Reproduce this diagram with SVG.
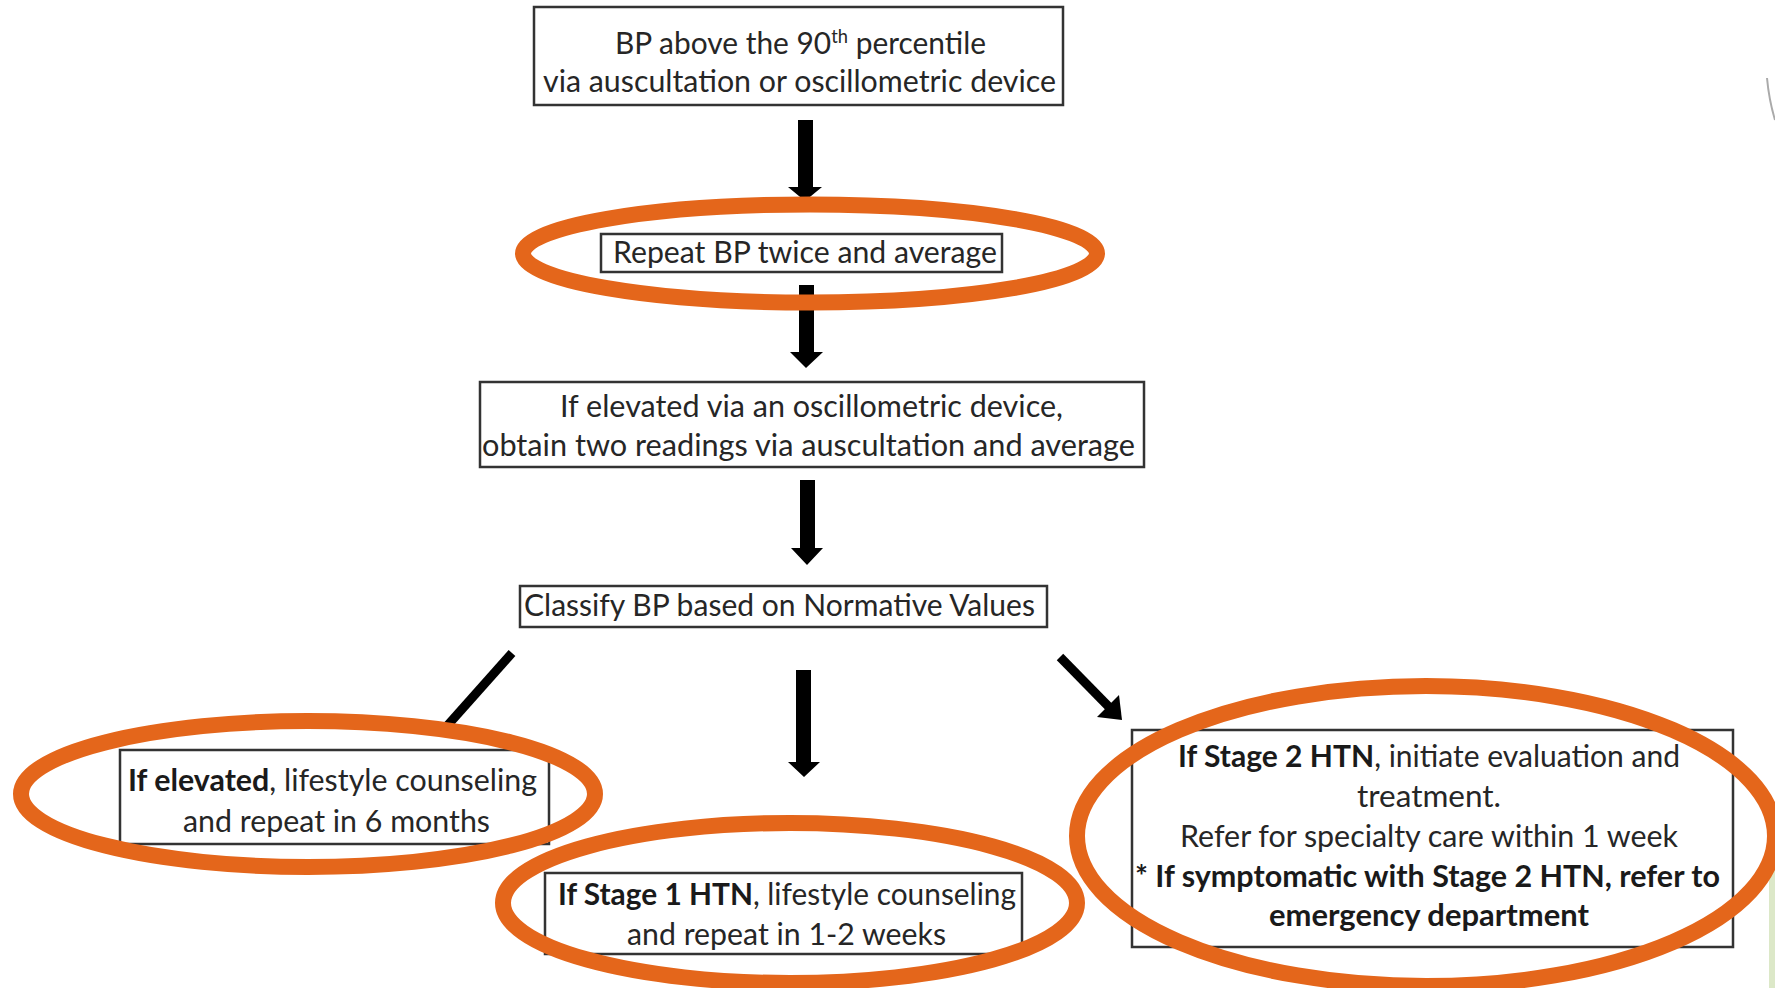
<svg xmlns="http://www.w3.org/2000/svg" width="1775" height="988" viewBox="0 0 1775 988">
<style>
.box{fill:#fff;stroke:#333;stroke-width:2.5}
.t{font-family:Lato,"Open Sans","Liberation Sans",sans-serif;font-size:31px;fill:#262626}
.b{font-weight:700;fill:#1a1a1a}
.hl{fill:none;stroke:#E4661B;stroke-width:16}
.sh{fill:#000}
.ln{stroke:#000;stroke-width:9;fill:none}
</style>
<rect x="0" y="0" width="1775" height="988" fill="#fff"/>
<g id="decor">
<path d="M1767,78 Q1769,100 1775,120" fill="none" stroke="#aaa" stroke-width="2"/>
<rect x="1769" y="835" width="6" height="153" fill="#DCE8C8"/>
</g>
<g id="connectors">
<polygon class="sh" points="798,120 813,120 813,187 822,187 805,201 788,187 798,187"/>
<polygon class="sh" points="799,285 814,285 814,352 823,352 806,368 790,352 799,352"/>
<polygon class="sh" points="800,480 815,480 815,548 823,548 807,565 791,548 800,548"/>
<polygon class="sh" points="796,670 811,670 811,762 820,762 804,777 788,762 796,762"/>
<line class="ln" x1="512" y1="653" x2="447" y2="726"/>
<line class="ln" x1="1060" y1="657" x2="1110" y2="708"/>
<polygon class="sh" points="1122,720 1097,717 1119,695"/>
</g>
<g id="n1">
<rect class="box" x="534" y="7" width="529" height="98"/>
<text class="t" x="615" y="54" textLength="371" lengthAdjust="spacingAndGlyphs">BP above the 90<tspan font-size="19" dy="-11">th</tspan><tspan dy="11"> percentile</tspan></text>
<text class="t" x="543" y="92" textLength="513" lengthAdjust="spacingAndGlyphs">via auscultation or oscillometric device</text>
</g>
<g id="n2">
<rect class="box" x="601" y="234" width="401" height="38"/>
<text class="t" x="613" y="263" textLength="384" lengthAdjust="spacingAndGlyphs">Repeat BP twice and average</text>
</g>
<g id="n3">
<rect class="box" x="480" y="382" width="664" height="85"/>
<text class="t" x="560" y="417" textLength="503" lengthAdjust="spacingAndGlyphs">If elevated via an oscillometric device,</text>
<text class="t" x="482" y="456" textLength="653" lengthAdjust="spacingAndGlyphs">obtain two readings via auscultation and average</text>
</g>
<g id="n4">
<rect class="box" x="520" y="586" width="527" height="41"/>
<text class="t" x="524" y="616" textLength="511" lengthAdjust="spacingAndGlyphs">Classify BP based on Normative Values</text>
</g>
<g id="n5">
<rect class="box" x="120" y="750" width="429" height="94"/>
<text class="t" x="128" y="791" textLength="409" lengthAdjust="spacingAndGlyphs"><tspan class="b">If elevated</tspan>, lifestyle counseling</text>
<text class="t" x="183" y="832" textLength="307" lengthAdjust="spacingAndGlyphs">and repeat in 6 months</text>
</g>
<g id="n6">
<rect class="box" x="545" y="873" width="477" height="81"/>
<text class="t" x="558" y="905" textLength="458" lengthAdjust="spacingAndGlyphs"><tspan class="b">If Stage 1 HTN</tspan>, lifestyle counseling</text>
<text class="t" x="627" y="945" textLength="319" lengthAdjust="spacingAndGlyphs">and repeat in 1-2 weeks</text>
</g>
<g id="n7">
<rect class="box" x="1132" y="730" width="601" height="217"/>
<text class="t" x="1178" y="767" textLength="502" lengthAdjust="spacingAndGlyphs"><tspan class="b">If Stage 2 HTN</tspan>, initiate evaluation and</text>
<text class="t" x="1357" y="807" textLength="144" lengthAdjust="spacingAndGlyphs">treatment.</text>
<text class="t" x="1180" y="847" textLength="498" lengthAdjust="spacingAndGlyphs">Refer for specialty care within 1 week</text>
<text class="t b" x="1135" y="887" textLength="585" lengthAdjust="spacingAndGlyphs">* If symptomatic with Stage 2 HTN, refer to</text>
<text class="t b" x="1269" y="926" textLength="320" lengthAdjust="spacingAndGlyphs">emergency department</text>
</g>
<g id="highlights">
<ellipse class="hl" cx="810" cy="253.5" rx="287" ry="49"/>
<ellipse class="hl" cx="308" cy="794" rx="287" ry="73"/>
<ellipse class="hl" cx="790" cy="903" rx="287" ry="80"/>
<ellipse class="hl" cx="1426" cy="836" rx="349" ry="150"/>
</g>
</svg>
